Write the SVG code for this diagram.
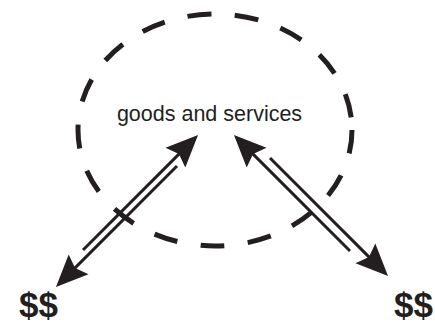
<svg xmlns="http://www.w3.org/2000/svg" width="435" height="326" viewBox="0 0 435 326">
  <style>
    .ring { fill: none; stroke: #231f20; stroke-width: 5; stroke-dasharray: 24 23.46; stroke-dashoffset: 0.4; }
    .flow { fill: none; stroke: #231f20; stroke-width: 3; marker-end: url(#ah); }
    .label { font-family: "Liberation Sans", Arial, sans-serif; fill: #231f20; }
    .goods { font-size: 21.5px; }
    .money { font-size: 35px; font-weight: bold; }
  </style>
  <defs>
    <marker id="ah" markerUnits="userSpaceOnUse" orient="auto" refX="0" refY="0" markerWidth="60" markerHeight="60" overflow="visible" style="overflow:visible">
      <path d="M20,0 L-12,-14 L-7,0 L-12,14 Z" fill="#231f20"/>
    </marker>
  </defs>
  <g id="goods-and-services">
    <ellipse class="ring" cx="215" cy="130" rx="137" ry="116"/>
    <text class="label goods" x="209.5" y="121" text-anchor="middle">goods and services</text>
  </g>
  <g id="money-left">
    <text class="label money" x="19" y="317">$$</text>
  </g>
  <g id="money-right">
    <text class="label money" x="433" y="317" text-anchor="end">$$</text>
  </g>
  <g id="connectors">
    <path class="flow" d="M83,250 L183.9,149.1"/>
    <path class="flow" d="M177,166 L70.1,272.9"/>
    <path class="flow" d="M350,251 L248.1,149.1"/>
    <path class="flow" d="M270,158 L373.9,261.9"/>
  </g>
</svg>
